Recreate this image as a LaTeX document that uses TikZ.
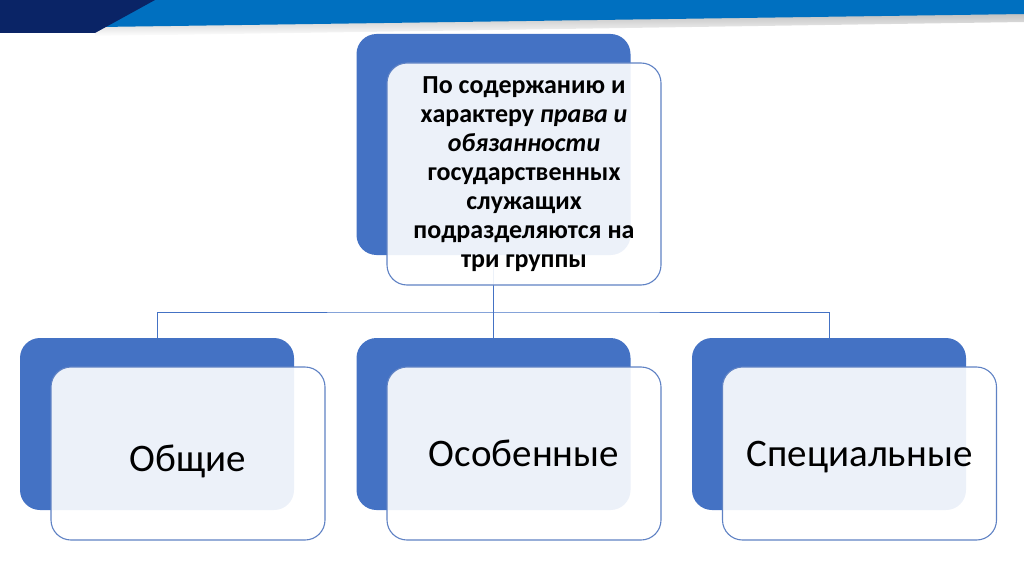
\documentclass[tikz,border=0pt]{standalone}
\usepackage{fontspec}
\setmainfont{Carlito}
\usepackage{tikz}
\usetikzlibrary{positioning}
\definecolor{navy}{HTML}{0A2466}
\definecolor{band}{HTML}{0070C0}
\definecolor{accent}{HTML}{4472C4}
\definecolor{edge}{HTML}{5F82C4}

\begin{document}
\begin{tikzpicture}[x=1pt,y=1pt,
back/.style={fill=accent,rounded corners=20pt,minimum width=274pt,inner sep=0pt},
front/.style={draw=edge,line width=1.1pt,fill=white,fill opacity=0.9,text opacity=1,rounded corners=20pt,minimum width=274pt,inner sep=0pt,align=center},
group/.style={front,minimum height=173pt,text height=30pt,text depth=5pt,font=\fontsize{39}{44}\selectfont},
link/.style={draw=accent,line width=1pt}]
\useasboundingbox (0,0) rectangle (1024,574);
% banner
\shade[top color=black!25,bottom color=white] (95,548) -- (1024,561) -- (1024,552) -- (95,538) -- cycle;
\fill[band] (150,574) -- (1024,574) -- (1024,560) -- (100,547) -- cycle;
\fill[navy] (0,574) -- (155,574) -- (95,541) -- (0,541) -- cycle;
% boxes behind
\node[back,minimum height=221pt] (topback) at (493.5,429.5) {};
\node[back,minimum height=172pt] (leftback) at (157,150) {};
\node[back,minimum height=172pt] (midback) at (493.5,150) {};
\node[back,minimum height=172pt] (rightback) at (829,150) {};
% connectors
\coordinate (split) at (493.5,262);
\draw[link] (topback.south) -- (split);
\draw[link] (leftback.north) |- (split) -| (rightback.north);
\draw[link] (split) -- (midback.north);
% boxes in front
\node[front,minimum height=222pt,font=\fontsize{26}{29}\selectfont\bfseries] (top) at (524,400)
  {По содержанию и\\ характеру \textit{права и}\\ \textit{обязанности}\\ государственных\\ служащих\\ подразделяются на\\ три группы};
\node[group,text height=35pt,text depth=0pt] (general) at (188,120.5) {Общие};
\node[group] (special) at (524,120.5) {Особенные};
\node[group] (specific) at (859.5,120.5) {Специальные};
\end{tikzpicture}
\end{document}
